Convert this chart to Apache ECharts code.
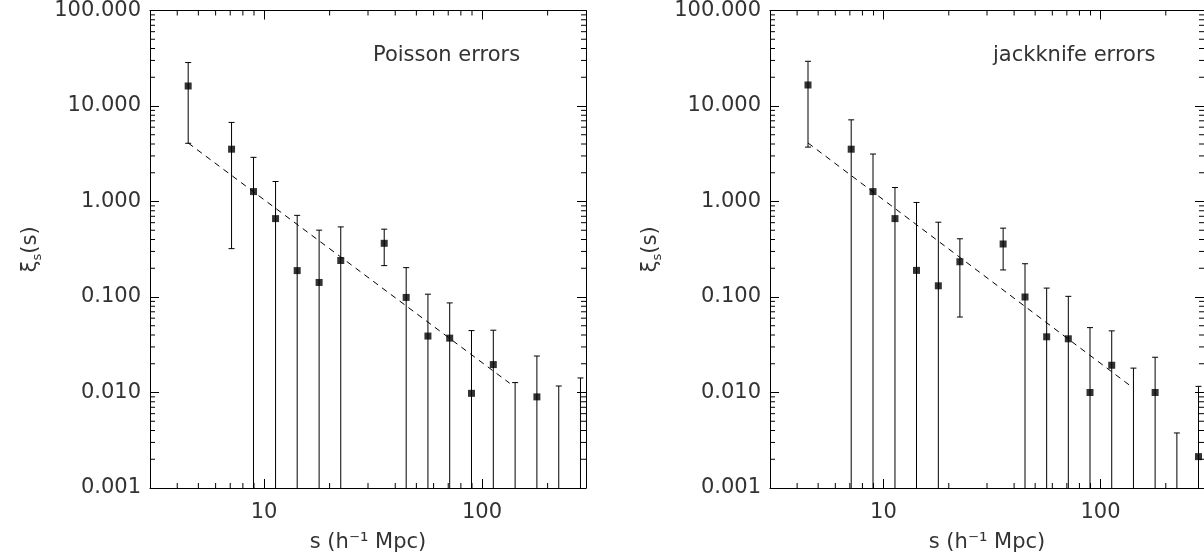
<!DOCTYPE html>
<html><head><meta charset="utf-8">
<script src="https://cdn.jsdelivr.net/npm/echarts@6/dist/echarts.min.js"></script>
<style>html,body{margin:0;padding:0;background:#fff}#c{width:1204px;height:558px}</style>
</head><body><div id="c"></div>
<script>
// separation bins s (h^-1 Mpc)
const sBins = [4.49, 7.1, 8.95, 11.3, 14.2, 17.9, 22.5, 35.6, 44.9, 56.5, 71.1, 89.5, 112.7, 141.9, 178.6, 225, 283];

// Poisson errors panel
const poissonXi = [16.2, 3.53, 1.27, 0.662, 0.189, 0.142, 0.241, 0.365, 0.099, 0.039, 0.0371, 0.0098, 0.0196, null, 0.0090, null, null];
const poissonHi = [28.5, 6.73, 2.90, 1.62, 0.716, 0.501, 0.542, 0.513, 0.203, 0.107, 0.0867, 0.0445, 0.0449, 0.0127, 0.0241, 0.0117, 0.0142];
const poissonLo = [4.07, 0.321, null, null, null, null, null, 0.213, null, null, null, null, null, null, null, null, null];
const poissonFit = [[4.49, 4.1], [134, 0.0125]];

// jackknife errors panel
const jackXi = [16.6, 3.53, 1.27, 0.662, 0.190, 0.131, 0.234, 0.359, 0.100, 0.0383, 0.0365, 0.0100, 0.0193, null, 0.0100, null, 0.00213];
const jackHi = [29.4, 7.16, 3.14, 1.40, 0.977, 0.607, 0.407, 0.526, 0.223, 0.124, 0.1016, 0.0478, 0.0442, 0.0180, 0.0234, 0.00377, 0.0116];
const jackLo = [3.71, null, null, null, null, null, 0.0617, 0.192, null, null, null, null, null, null, null, null, null];
const jackFit = [[4.49, 4.1], [142, 0.0111]];

const panelLabels = ['Poisson errors', 'jackknife errors'];
const xMin = 3, xMax = 300, yMin = 0.001, yMax = 100;
const xMinorTicks = [4, 5, 6, 7, 8, 9, 20, 30, 40, 50, 60, 70, 80, 90, 200];
const yMinorTicks = [0.002, 0.003, 0.004, 0.005, 0.006, 0.007, 0.008, 0.009,
  0.02, 0.03, 0.04, 0.05, 0.06, 0.07, 0.08, 0.09,
  0.2, 0.3, 0.4, 0.5, 0.6, 0.7, 0.8, 0.9,
  2, 3, 4, 5, 6, 7, 8, 9,
  20, 30, 40, 50, 60, 70, 80, 90];

const FONT = 'DejaVu Sans';
const TXT = '#333';
const MAJ = 9, MIN = 5;
const TICKC = '#000';

const chart = echarts.init(document.getElementById('c'), null, {renderer: 'canvas'});

const grids = [
  {left: 150, top: 7, width: 436, height: 484},
  {left: 770, top: 7, width: 436, height: 484}
];

function xLabel(v) {
  const l = Math.log10(v);
  return Math.abs(l - Math.round(l)) < 1e-6 ? String(Math.round(v)) : '';
}

const xAxes = [], yAxes = [], series = [], titles = [];
const panels = [
  {xi: poissonXi, hi: poissonHi, lo: poissonLo, fit: poissonFit},
  {xi: jackXi, hi: jackHi, lo: jackLo, fit: jackFit}
];

panels.forEach((p, g) => {
  const lineStyle = {color: '#000', width: 1};
  xAxes.push({
    gridIndex: g, type: 'log', logBase: 10, min: xMin, max: xMax, position: 'bottom',
    axisLine: {show: true, onZero: false, lineStyle},
    axisTick: {show: true, inside: true, length: MAJ, lineStyle},
    axisLabel: {formatter: xLabel, fontSize: 21, fontFamily: FONT, color: TXT, margin: 14, showMinLabel: false, showMaxLabel: false},
    splitLine: {show: false},
    name: 's (h\u207B\u00B9 Mpc)', nameLocation: 'middle', nameGap: 44,
    nameTextStyle: {fontSize: 21, fontFamily: FONT, color: TXT}
  });
  xAxes.push({
    gridIndex: g, type: 'log', logBase: 10, min: xMin, max: xMax, position: 'top',
    axisLine: {show: true, onZero: false, lineStyle},
    axisTick: {show: true, inside: true, length: MAJ, lineStyle},
    axisLabel: {show: false}, splitLine: {show: false}
  });
  yAxes.push({
    gridIndex: g, type: 'log', logBase: 10, min: yMin, max: yMax, position: 'left',
    axisLine: {show: true, onZero: false, lineStyle},
    axisTick: {show: true, inside: true, length: MAJ, lineStyle},
    axisLabel: {formatter: v => v.toFixed(3), fontSize: 21, fontFamily: FONT, color: TXT, margin: 9},
    splitLine: {show: false},
    name: '{x|\u03BE}{s|s}{x|(s)}', nameLocation: 'middle', nameGap: 106,
    nameTextStyle: {
      rich: {
        x: {fontSize: 21, fontFamily: FONT, color: TXT, lineHeight: 26, verticalAlign: 'middle'},
        s: {fontSize: 13, fontFamily: FONT, color: TXT, lineHeight: 26, verticalAlign: 'bottom'}
      }
    }
  });
  yAxes.push({
    gridIndex: g, type: 'log', logBase: 10, min: yMin, max: yMax, position: 'right',
    axisLine: {show: true, onZero: false, lineStyle},
    axisTick: {show: true, inside: true, length: MAJ, lineStyle},
    axisLabel: {show: false}, splitLine: {show: false}
  });

  const xi = 2 * g, yi = 2 * g;

  // minor ticks along x (bottom & top)
  series.push({
    type: 'custom', xAxisIndex: xi, yAxisIndex: yi, silent: true, z: 3,
    data: xMinorTicks.map(v => [v, yMin]),
    encode: {x: 0, y: 1},
    renderItem: (params, api) => {
      const v = api.value(0);
      const b = api.coord([v, yMin]);
      const t = api.coord([v, yMax]);
      return {type: 'group', children: [
        {type: 'line', shape: {x1: b[0], y1: b[1], x2: b[0], y2: b[1] - MIN}, style: {stroke: TICKC, lineWidth: 1}},
        {type: 'line', shape: {x1: t[0], y1: t[1], x2: t[0], y2: t[1] + MIN}, style: {stroke: TICKC, lineWidth: 1}}
      ]};
    }
  });
  // minor ticks along y (left & right)
  series.push({
    type: 'custom', xAxisIndex: xi, yAxisIndex: yi, silent: true, z: 3,
    data: yMinorTicks.map(v => [xMin, v]),
    encode: {x: 0, y: 1},
    renderItem: (params, api) => {
      const v = api.value(1);
      const l = api.coord([xMin, v]);
      const r = api.coord([xMax, v]);
      return {type: 'group', children: [
        {type: 'line', shape: {x1: l[0], y1: l[1], x2: l[0] + MIN, y2: l[1]}, style: {stroke: TICKC, lineWidth: 1}},
        {type: 'line', shape: {x1: r[0], y1: r[1], x2: r[0] - MIN, y2: r[1]}, style: {stroke: TICKC, lineWidth: 1}}
      ]};
    }
  });
  // error bars
  series.push({
    type: 'custom', xAxisIndex: xi, yAxisIndex: yi, silent: true, z: 4,
    data: sBins.map((s, i) => [s, p.hi[i], p.lo[i] == null ? '-' : p.lo[i]]),
    encode: {x: 0, y: 1},
    renderItem: (params, api) => {
      const s = api.value(0);
      const hi = api.value(1);
      const lo = api.value(2);
      const hasLo = isFinite(lo) && lo > 0;
      const t = api.coord([s, hi]);
      const b = api.coord([s, hasLo ? lo : yMin]);
      const cap = 3;
      const st = {stroke: '#000', lineWidth: 1};
      const ch = [
        {type: 'line', shape: {x1: t[0], y1: t[1], x2: b[0], y2: b[1]}, style: st},
        {type: 'line', shape: {x1: t[0] - cap, y1: t[1], x2: t[0] + cap, y2: t[1]}, style: st}
      ];
      if (hasLo) ch.push({type: 'line', shape: {x1: b[0] - cap, y1: b[1], x2: b[0] + cap, y2: b[1]}, style: st});
      return {type: 'group', children: ch};
    }
  });
  // data points
  series.push({
    type: 'scatter', xAxisIndex: xi, yAxisIndex: yi, silent: true, z: 5,
    symbol: 'rect', symbolSize: 7, itemStyle: {color: '#000'},
    data: sBins.map((s, i) => [s, p.xi[i] == null ? '-' : p.xi[i]])
  });
  // power-law fit
  series.push({
    type: 'line', xAxisIndex: xi, yAxisIndex: yi, silent: true, z: 4,
    symbol: 'none', lineStyle: {color: '#000', width: 1, type: [6, 5]},
    data: p.fit
  });

  titles.push({
    text: panelLabels[g],
    left: g === 0 ? 368 : 988, top: 40,
    textStyle: {fontSize: 21, fontWeight: 'normal', fontFamily: FONT, color: TXT}
  });
});

chart.setOption({
  animation: false,
  backgroundColor: '#fff',
  title: titles,
  grid: grids,
  xAxis: xAxes,
  yAxis: yAxes,
  series: series
});
</script>
</body></html>
